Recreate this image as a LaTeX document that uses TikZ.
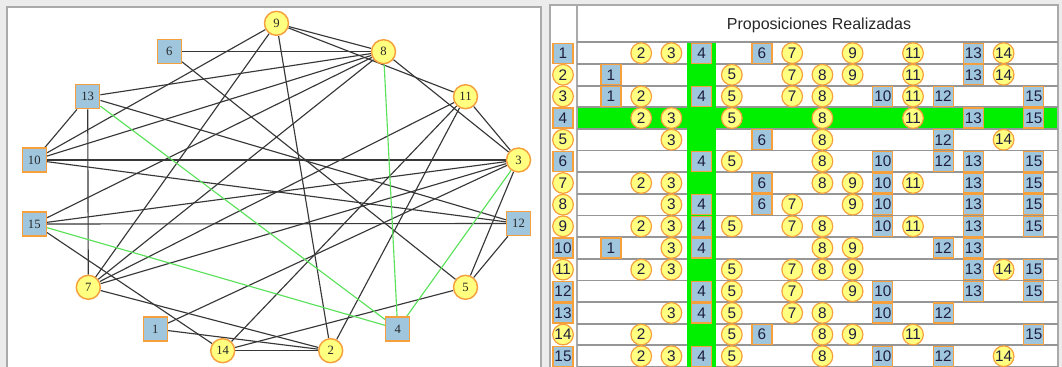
\documentclass[tikz,border=0pt]{standalone}
\usepackage{fontspec}
\setmainfont{Liberation Serif}
\newfontfamily\tabfont{Liberation Sans}
\pgfdeclarelayer{bg}
\pgfdeclarelayer{edges}
\pgfsetlayers{bg,edges,main}
\definecolor{nodeyellow}{RGB}{255,255,128}
\definecolor{nodeorange}{RGB}{245,160,60}
\definecolor{nodeblue}{RGB}{160,198,222}
\definecolor{edgegray}{RGB}{55,55,55}
\definecolor{edgegreen}{RGB}{90,225,90}
\definecolor{hlgreen}{RGB}{0,240,0}
\definecolor{winbg}{RGB}{236,236,236}
\definecolor{framegray}{RGB}{170,170,170}
\definecolor{rowline}{RGB}{150,150,150}
\definecolor{txtgraph}{RGB}{40,40,40}
\definecolor{txttab}{RGB}{30,30,60}
\newcommand\kindsel[3]{\ifcase#1\or#2\or#3\or#3\or#2\or#3\or#2\or#3\or#3\or#3\or#2\or#3\or#2\or#2\or#3\or#2\fi}
\begin{document}
\begin{tikzpicture}[x=0.75pt,y=-0.75pt,
  gbase/.style={draw=nodeorange, line width=1.1pt, inner sep=0pt, font=\fontsize{9.5}{10}\selectfont, text=txtgraph},
  gcirc/.style={gbase, circle, fill=nodeyellow, minimum size=18pt},
  gsq/.style={gbase, rectangle, fill=nodeblue, minimum size=18pt},
  tbase/.style={draw=nodeorange, line width=0.9pt, inner sep=0pt, font=\tabfont\fontsize{11.5}{12}\selectfont, text=txttab},
  tcirc/.style={tbase, circle, fill=nodeyellow, minimum size=15.5pt},
  tsq/.style={tbase, rectangle, fill=nodeblue, minimum size=15pt},
  gkind/.code={\kindsel{#1}{\pgfkeysalso{gsq}}{\pgfkeysalso{gcirc}}},
  tkind/.code={\kindsel{#1}{\pgfkeysalso{tsq}}{\pgfkeysalso{tcirc}}},
  edge/.style={draw=edgegray, line width=0.85pt},
  gedge/.style={draw=edgegreen, line width=0.85pt},
  frame/.style={draw=framegray, line width=1pt},
  sep/.style={draw=rowline, line width=1.4pt}
]
\useasboundingbox (0,0) rectangle (1062,367);
\begin{pgfonlayer}{bg}
  \fill[winbg] (0,0) rectangle (1062,367);
  % left panel
  \fill[white] (7,7) rectangle (541,367);
  \draw[frame] (7,367) -- (7,7) -- (541,7) -- (541,367);
  % right panel
  \fill[white] (550,5) rectangle (1058,367);
  \draw[frame] (550,367) -- (550,5) -- (1058,5) -- (1058,367);
  \draw[frame] (577,5) -- (577,367);
  \foreach \k in {0,...,15} {
    \draw[sep] (577,{42.3+21.65*\k}) -- (1058,{42.3+21.65*\k});
  }
  \fill[hlgreen] (687,43.3) rectangle (716,367);
  \fill[hlgreen] (578,{42.3+21.65*3+1}) rectangle (1057,{42.3+21.65*4-1});
\end{pgfonlayer}

% header
\node[font=\tabfont\fontsize{12}{14}\selectfont, text=txtgraph, anchor=base] (title) at (819,29.5) {Proposiciones Realizadas};

% graph nodes
\foreach \n/\x/\y in {9/276.5/23.3, 6/169.3/51.7, 8/383.5/51.7, 13/87.7/96.7, 11/465.5/96.7,
  10/34.3/160, 3/518.5/160, 15/34.3/224, 12/518.5/223.5, 7/88.3/287.3, 5/465.5/287.3,
  1/155.3/329, 4/397.7/329, 14/222.7/350.7, 2/330.7/350.7} {
  \node[gkind=\n] (g\n) at (\x,\y) {\n};
}

% graph edges
\begin{pgfonlayer}{edges}
  \foreach \a/\b in {1/2, 1/3, 2/7, 2/9, 2/11, 2/14, 3/5, 3/7, 3/8, 3/10, 3/11, 3/15,
    5/6, 5/12, 5/14, 6/8, 7/8, 7/9, 7/11, 7/13, 8/9, 8/10, 8/13, 8/15,
    9/10, 9/11, 10/12, 10/13, 11/14, 12/13, 12/15, 14/15} {
    \draw[edge] (g\a) -- (g\b);
  }
  \foreach \b in {3, 8, 13, 15} {
    \draw[gedge] (g4) -- (g\b);
  }
\end{pgfonlayer}

% table
\foreach \r/\l in {1/{2,3,4,6,7,9,11,13,14}, 2/{1,5,7,8,9,11,13,14}, 3/{1,2,4,5,7,8,10,11,12,15},
  4/{2,3,5,8,11,13,15}, 5/{3,6,8,12,14}, 6/{4,5,8,10,12,13,15}, 7/{2,3,6,8,9,10,11,13,15},
  8/{3,4,6,7,9,10,13,15}, 9/{2,3,4,5,7,8,10,11,13,15}, 10/{1,3,4,8,9,12,13},
  11/{2,3,5,7,8,9,13,14,15}, 12/{4,5,7,9,10,13,15}, 13/{3,4,5,7,8,10,12},
  14/{2,5,6,8,9,11,15}, 15/{2,3,4,5,8,10,12,14}} {
  \node[tkind=\r] (rl\r) at (563,{42.3+21.65*(\r-0.5)}) {\r};
  \foreach \c in \l {
    \node[tkind=\c] (t\r-\c) at ({611+30.2*(\c-1)},{42.3+21.65*(\r-0.5)}) {\c};
  }
}
\end{tikzpicture}
\end{document}
